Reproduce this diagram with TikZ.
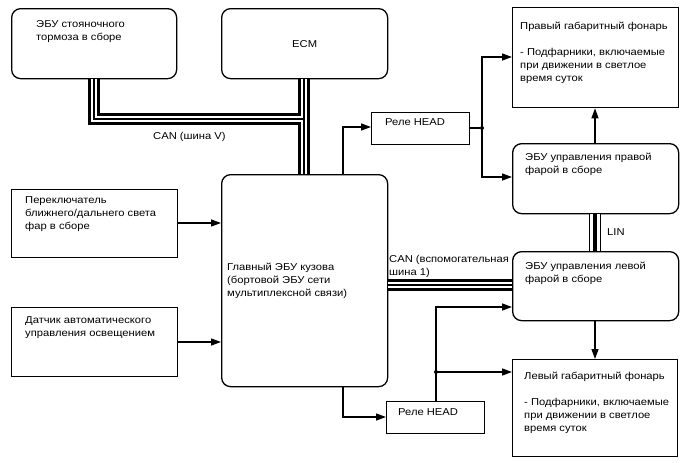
\documentclass[tikz,border=0pt]{standalone}
\usepackage{fontspec}
\setmainfont[FakeStretch=1.12]{Liberation Sans}
\usetikzlibrary{arrows.meta}
\begin{document}
\begin{tikzpicture}[x=1pt,y=-1pt,
  box/.style={draw,line width=1.3pt,inner sep=0pt,anchor=north west},
  rbox/.style={box,rounded corners=9pt},
  txt/.style={anchor=north west,inner sep=0pt,align=left,font=\fontsize{10}{13}\selectfont},
  arr/.style={line width=1.3pt,-{Triangle[length=10pt,width=7pt]}},
  ln/.style={line width=1.3pt},
  dot/.style={circle,fill,inner sep=0pt,minimum size=4pt}]
\useasboundingbox (0,0) rectangle (688,463);
% boxes
\node[rbox,minimum width=165pt,minimum height=70pt] (pb) at (11,8) {};
\node[rbox,minimum width=166pt,minimum height=70pt] (ecm) at (221,8) {};
\node[rbox,minimum width=166pt,minimum height=212pt] (main) at (221,174) {};
\node[box,minimum width=166pt,minimum height=68pt] (sw) at (11,189) {};
\node[box,minimum width=166pt,minimum height=69pt] (sen) at (11,307) {};
\node[box,minimum width=98pt,minimum height=32pt] (relU) at (371,112) {};
\node[box,minimum width=98pt,minimum height=32pt] (relL) at (386,401) {};
\node[box,minimum width=166pt,minimum height=100pt] (rsl) at (512,7) {};
\node[rbox,minimum width=166pt,minimum height=70pt] (recu) at (512,143) {};
\node[rbox,minimum width=166pt,minimum height=69pt] (lecu) at (512,251) {};
\node[box,minimum width=165pt,minimum height=97pt] (lsl) at (512,359) {};
% texts
\node[txt] (tpb) at (36,20) {ЭБУ стояночного\\тормоза в сборе};
\node[txt,anchor=center] (tecm) at (ecm.center) {ECM};
\node[txt] (tsw) at (25,196) {Переключатель\\ближнего/дальнего света\\фар в сборе};
\node[txt] (tsen) at (25,316) {Датчик автоматического\\управления освещением};
\node[txt] (tmain) at (227,263) {Главный ЭБУ кузова\\(бортовой ЭБУ сети\\мультиплексной связи)};
\node[txt] (trelU) at (385,118) {Реле HEAD};
\node[txt] (trelL) at (398,408) {Реле HEAD};
\node[txt] (trsl) at (520,22) {Правый габаритный фонарь\\[13pt]- Подфарники, включаемые\\при движении в светлое\\время суток};
\node[txt] (trecu) at (525,153) {ЭБУ управления правой\\фарой в сборе};
\node[txt] (tlecu) at (525,262) {ЭБУ управления левой\\фарой в сборе};
\node[txt] (tlsl) at (524,372) {Левый габаритный фонарь\\[13pt]- Подфарники, включаемые\\при движении в светлое\\время суток};
\node[txt] (tcanv) at (153,132) {CAN (шина V)};
\node[txt] (tcan1) at (389,255) {CAN (вспомогательная\\шина 1)};
\node[txt] (tlin) at (607,228) {LIN};
% bus CAN V
\coordinate (bj) at (304,119);
\foreach \w/\c in {12pt/black,6pt/white,1.3pt/black}{
  \draw[line width=\w,\c] (pb.south -| 94,0) |- (bj);
  \draw[line width=\w,\c] (ecm.south -| bj) -- (main.north -| bj);
  \draw[line width=\w,\c] (main.east |- 0,285) -- (lecu.west |- 0,285);
}
\foreach \w/\c in {12pt/black,10pt/white,4pt/black}{
  \draw[line width=\w,\c] (recu.south -| 595,0) -- (lecu.north -| 595,0);
}
% arrows
\draw[arr] (sw.east |- 0,223) -- (main.west |- 0,223);
\draw[arr] (sen.east |- 0,342) -- (main.west |- 0,342);
\draw[arr] (main.north -| 343,0) |- (relU.west |- 0,127);
\node[dot] (jU) at (482,128) {};
\draw[ln] (relU.east |- jU) -- (jU);
\draw[arr] (jU.center) |- (rsl.west |- 0,57);
\draw[arr] (jU.center) |- (recu.west |- 0,177);
\draw[arr] (recu.north -| 595,0) -- (rsl.south -| 595,0);
\draw[arr] (main.south -| 343,0) |- (relL.west |- 0,417);
\node[dot] (jL) at (436,372) {};
\draw[arr] (relL.north -| jL) |- (lecu.west |- 0,307);
\draw[arr] (jL.center) -- (lsl.west |- jL);
\draw[arr] (lecu.south -| 595,0) -- (lsl.north -| 595,0);
\end{tikzpicture}
\end{document}
